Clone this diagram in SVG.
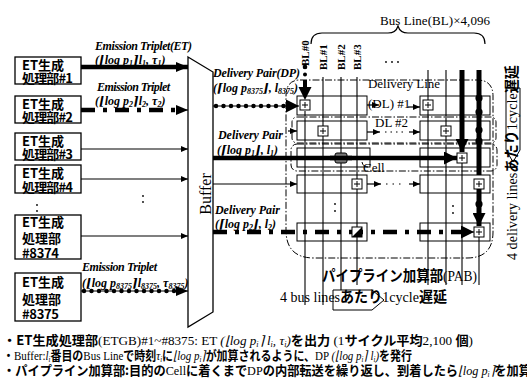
<svg xmlns="http://www.w3.org/2000/svg" width="527" height="387" viewBox="0 0 527 387">
<defs>
<style>
.box{fill:#fff;stroke:#000;stroke-width:1.3}
.bt{font-family:"Noto Sans CJK JP","Noto Sans",sans-serif;font-weight:bold;font-size:13px;fill:#000}
.it{font-family:"Liberation Serif","DejaVu Serif",serif;font-style:italic;font-weight:bold;font-size:12px;fill:#000}
.se{font-family:"Liberation Serif","Noto Sans CJK JP",serif;fill:#000}
.j{font-family:"Noto Sans CJK JP",sans-serif;font-weight:bold}
.m{font-style:italic}
.ln{fill:none;stroke:#000;stroke-width:1.2}
.bus{fill:none;stroke:#000;stroke-width:1.1}
.dd{fill:none;stroke:#000;stroke-width:1;stroke-dasharray:7 2 1.5 2}
.cell{fill:#fff;stroke:#000;stroke-width:1}
.row{fill:#fff;stroke:#000;stroke-width:1}
.thk{fill:none;stroke:#000;stroke-width:4.5}
.bead{fill:none;stroke:#000;stroke-width:4.5;stroke-linecap:round;stroke-dasharray:0 7.5}
.dash{fill:none;stroke:#000;stroke-width:4.5;stroke-dasharray:14 8 4 8}
</style>
<marker id="ab" markerUnits="userSpaceOnUse" markerWidth="12" markerHeight="10" refX="12" refY="5" orient="auto"><path d="M0,0L12,5L0,10z"/></marker>
<marker id="as" markerUnits="userSpaceOnUse" markerWidth="7" markerHeight="6" refX="7" refY="3" orient="auto"><path d="M0,0L7,3L0,6z"/></marker>
<marker id="al" markerUnits="userSpaceOnUse" markerWidth="13" markerHeight="13" refX="13" refY="6.5" orient="auto"><path d="M0,0L13,6.5L0,13z"/></marker>
<g id="cp"><rect x="-5" y="-5" width="10" height="10" class="cell"/><path d="M-3,0H3M0,-3V3" stroke="#000" stroke-width="1"/></g>
</defs>
<rect width="527" height="387" fill="#fff"/>

<!-- ET generation blocks -->
<g id="et1"><rect class="box" x="15" y="57" width="66" height="27"/><text class="bt" x="22" y="70">ET生成</text><text class="bt" x="22" y="83" textLength="51">処理部#1</text></g>
<g id="et2"><rect class="box" x="15" y="96" width="66" height="27"/><text class="bt" x="22" y="109">ET生成</text><text class="bt" x="22" y="122" textLength="51">処理部#2</text></g>
<g id="et3"><rect class="box" x="15" y="133" width="66" height="27"/><text class="bt" x="22" y="146">ET生成</text><text class="bt" x="22" y="159" textLength="51">処理部#3</text></g>
<g id="et4"><rect class="box" x="15" y="165" width="66" height="28"/><text class="bt" x="22" y="178">ET生成</text><text class="bt" x="22" y="192" textLength="51">処理部#4</text></g>
<g id="et8374"><rect class="box" x="15" y="215" width="66" height="44"/><text class="bt" x="22" y="227">ET生成</text><text class="bt" x="22" y="243">処理部</text><text class="bt" x="22" y="258" textLength="37">#8374</text></g>
<g id="et8375"><rect class="box" x="15" y="273" width="66" height="48"/><text class="bt" x="22" y="287">ET生成</text><text class="bt" x="22" y="304">処理部</text><text class="bt" x="22" y="319" textLength="37">#8375</text></g>
<g id="vdots1" fill="#000"><circle cx="37" cy="205" r="0.9"/><circle cx="37" cy="211" r="0.9"/><circle cx="143" cy="196" r="0.9"/><circle cx="143" cy="202" r="0.9"/></g>

<!-- Buffer -->
<g id="buffer"><polygon points="188,57 213,72 213,312 188,327" fill="#fff" stroke="#000" stroke-width="1.3"/><text transform="translate(211,194) rotate(-90)" text-anchor="middle" font-family="Liberation Serif,serif" font-size="16">Buffer</text></g>

<!-- PAB outlines -->
<g id="pab">
<path class="dd" d="M300,80H477Q493,80 493,96V232Q493,258 467,258H314Q286,258 286,230V96Q286,80 300,80Z"/>
<rect class="dd" x="292" y="117" width="204" height="26" rx="5"/>
<rect class="dd" x="291" y="144" width="206" height="27" rx="6"/>
<g id="dl1"><rect class="row" x="297" y="96" width="70" height="19"/><rect class="row" x="420" y="96" width="70" height="19"/></g>
<g id="dl2"><rect class="row" x="297" y="121" width="70" height="19"/><rect class="row" x="420" y="121" width="70" height="19"/></g>
<g id="dl3"><rect class="row" x="297" y="148" width="73" height="19"/><rect class="row" x="420" y="148" width="70" height="19"/></g>
<g id="dl4"><rect class="row" x="297" y="175" width="70" height="18"/><rect class="row" x="420" y="175" width="70" height="18"/></g>
<g id="dl5"><rect class="row" x="297" y="223" width="70" height="18"/><rect class="row" x="420" y="223" width="70" height="18"/></g>
</g>

<!-- bus lines -->
<g id="buslines">
<path class="bus" d="M305,111V305M323,77V305M341,77V305M357,77V285M428,70V285M446,70V285M462,163V285M479,236V285"/>
<circle cx="305" cy="67" r="2.3"/>
<path class="bead" d="M305,67V82" style="stroke-width:4"/>
<path d="M305,80V88" stroke="#000" stroke-width="4"/>
<path d="M298.5,87L311.5,87L305,100z"/>
<path class="thk" d="M462,70V152" style="stroke-width:5" marker-end="url(#al)"/>
<path class="thk" d="M479,70V175" style="stroke-width:5"/>
<g fill="#000"><circle cx="479" cy="98" r="3.6"/><circle cx="479" cy="112" r="3.6"/><circle cx="479" cy="130" r="3.6"/><circle cx="479" cy="141" r="3.6"/><circle cx="479" cy="204" r="3.6"/></g>
<path class="thk" d="M479,189V226" style="stroke-width:5" marker-end="url(#al)"/>
</g>

<!-- connectors -->
<g id="connectors">
<path class="thk" d="M81,67H188" marker-end="url(#ab)"/>
<path class="dash" d="M81,110H180"/><path d="M180,110H188" stroke="#000" stroke-width="1" marker-end="url(#ab)"/>
<path class="ln" d="M81,149H188" marker-end="url(#as)"/>
<path class="ln" d="M81,179H188" marker-end="url(#as)"/>
<path class="ln" d="M81,236H188" marker-end="url(#as)"/>
<path class="ln" d="M81,291H188" marker-end="url(#ab)"/><path class="bead" d="M84,291H180"/>
<path class="ln" d="M213,106H299" marker-end="url(#al)"/><path class="bead" d="M216,106H288"/>
<path class="thk" d="M213,158H457" marker-end="url(#al)"/>
<path class="ln" d="M213,184H297" marker-end="url(#as)"/>
<path class="dash" d="M213,232H462"/><path d="M460,232H474" stroke="#000" stroke-width="1" marker-end="url(#al)"/>
<path class="ln" d="M288,131H297" marker-end="url(#as)"/>
<path class="ln" d="M367,105H379" marker-end="url(#as)"/>
<path class="ln" d="M408,107H420" marker-end="url(#as)"/>
<path class="ln" d="M367,132H380" marker-end="url(#as)"/>
<path class="ln" d="M385,132H405" stroke-dasharray="1.5 4"/>
<path class="ln" d="M409,132H420" marker-end="url(#as)"/>
<path class="ln" d="M367,184H381" marker-end="url(#as)"/>
<path class="ln" d="M386,184H405" stroke-dasharray="1.5 5"/>
<path class="ln" d="M409,184H420" marker-end="url(#as)"/>
</g>

<!-- cells -->
<g id="cells">
<use href="#cp" x="305" y="105"/><use href="#cp" x="428" y="105"/>
<use href="#cp" x="323" y="131"/><use href="#cp" x="446" y="131"/>
<rect x="335" y="153" width="12" height="10" rx="2" fill="#777" stroke="#000"/><path d="M330,158H352" stroke="#000" stroke-width="4.5"/>
<use href="#cp" x="462" y="158"/>
<use href="#cp" x="357" y="184"/><use href="#cp" x="479" y="184"/>
<rect x="352" y="227" width="10" height="10" class="cell"/><path d="M352,237L362,227V237z" fill="#000"/>
<use href="#cp" x="479" y="232"/>
<path d="M362,162Q363,167 368,167" fill="none" stroke="#000"/>
<text class="se" x="363" y="172" style="font-size:13px">Cell</text>
<g fill="#000"><circle cx="335" cy="204" r="0.9"/><circle cx="335" cy="211" r="0.9"/><circle cx="453" cy="206" r="0.9"/><circle cx="453" cy="213" r="0.9"/><circle cx="386" cy="62" r="0.9"/><circle cx="392" cy="62" r="0.9"/><circle cx="398" cy="62" r="0.9"/></g>
</g>

<!-- bus line labels -->
<g id="bl-labels" font-family="Liberation Serif,serif" font-size="11" font-weight="bold">
<text transform="translate(309,66) rotate(-90)">BL#0</text>
<text transform="translate(327,70) rotate(-90)">BL#1</text>
<text transform="translate(345,70) rotate(-90)">BL#2</text>
<text transform="translate(361,70) rotate(-90)">BL#3</text>
</g>
<g id="brace"><path d="M311,44Q311,33 322,33H388Q396,33 398,26Q400,33 408,33H474Q485,33 485,44" fill="none" stroke="#000" stroke-width="1.2"/><text class="se" x="380" y="25" style="font-size:13px" textLength="110">Bus Line(BL)×4,096</text></g>

<!-- labels -->
<g id="labels">
<text class="it" x="95" y="50" textLength="97">Emission Triplet(ET)</text>
<text class="it" x="95" y="64">(⌊log p<tspan font-size="8" dy="2">1</tspan><tspan dy="-2">⌉</tspan>l<tspan font-size="8" dy="2">1</tspan><tspan dy="-2">, τ</tspan><tspan font-size="8" dy="2">1</tspan><tspan dy="-2">)</tspan></text>
<text class="it" x="97" y="91" textLength="73">Emission Triplet</text>
<text class="it" x="95" y="105">(⌊log p<tspan font-size="8" dy="2">2</tspan><tspan dy="-2">⌉</tspan>l<tspan font-size="8" dy="2">2</tspan><tspan dy="-2">, τ</tspan><tspan font-size="8" dy="2">2</tspan><tspan dy="-2">)</tspan></text>
<text class="it" x="82" y="271" textLength="75">Emission Triplet</text>
<text class="it" x="82" y="287">(⌊log p<tspan font-size="8" dy="2">8375</tspan><tspan dy="-2">⌉</tspan>l<tspan font-size="8" dy="2">8375</tspan><tspan dy="-2">, τ</tspan><tspan font-size="8" dy="2">8375</tspan><tspan dy="-2">)</tspan></text>
<text class="it" x="213" y="77" textLength="87">Delivery Pair(DP)</text>
<text class="it" x="213" y="92">(⌈log p<tspan font-size="8" dy="2">8375</tspan><tspan dy="-2">⌋, l</tspan><tspan font-size="8" dy="2">8375</tspan><tspan dy="-2">)</tspan></text>
<text class="it" x="218" y="139" textLength="65">Delivery Pair</text>
<text class="it" x="217" y="154">(⌈log p<tspan font-size="8" dy="2">1</tspan><tspan dy="-2">⌋, l</tspan><tspan font-size="8" dy="2">1</tspan><tspan dy="-2">)</tspan></text>
<text class="it" x="215" y="214" textLength="65">Delivery Pair</text>
<text class="it" x="215" y="228">(⌈log p<tspan font-size="8" dy="2">2</tspan><tspan dy="-2">⌋, l</tspan><tspan font-size="8" dy="2">2</tspan><tspan dy="-2">)</tspan></text>
<text class="se" x="368" y="88" style="font-size:13px" textLength="72">Delivery Line</text>
<text class="se" x="368" y="108" style="font-size:13px">(DL) #1</text>
<text class="se" x="375" y="127" style="font-size:13px">DL #2</text>
<text class="se" x="322" y="281" style="font-size:15px" textLength="155" lengthAdjust="spacingAndGlyphs"><tspan class="j">パイプライン加算部</tspan>(PAB)</text>
<polygon points="333,290 372,290 384,300 372,310 333,310" fill="#fff" stroke="#000" stroke-width="1"/>
<text class="se" x="280" y="302" style="font-size:15px" textLength="167" lengthAdjust="spacingAndGlyphs">4 bus lines<tspan class="j">あたり</tspan>1cycle<tspan class="j">遅延</tspan></text>
<polygon points="506,88 520,88 520,150 513,162 506,150" fill="#fff" stroke="#000" stroke-width="1"/>
<text class="se" transform="translate(517,260) rotate(-90)" style="font-size:15px" textLength="195" lengthAdjust="spacingAndGlyphs">4 delivery lines<tspan class="j">あたり</tspan>1cycle<tspan class="j">遅延</tspan></text>
</g>

<!-- notes -->
<g id="notes">
<text class="se" x="3" y="345" style="font-size:13px" textLength="470" lengthAdjust="spacingAndGlyphs"><tspan class="j">・ET生成処理部</tspan>(ETGB)#1~#8375: ET <tspan class="m">(⌊log p</tspan><tspan class="m" font-size="8" dy="2">i</tspan><tspan class="m" dy="-2">⌉ l</tspan><tspan class="m" font-size="8" dy="2">i</tspan><tspan class="m" dy="-2">, τ</tspan><tspan class="m" font-size="8" dy="2">i</tspan><tspan class="m" dy="-2">)</tspan><tspan class="j">を出力</tspan> (1<tspan class="j">サイクル平均</tspan>2,100 <tspan class="j">個</tspan>)</text>
<text class="se" x="3" y="360" style="font-size:13px" textLength="409" lengthAdjust="spacingAndGlyphs"><tspan class="j">・</tspan>Buffer:<tspan class="m">l</tspan><tspan class="m" font-size="8" dy="2">i</tspan><tspan class="j" dy="-2">番目の</tspan>Bus Line<tspan class="j">で時刻</tspan><tspan class="m">τ</tspan><tspan class="m" font-size="8" dy="2">i</tspan><tspan class="j" dy="-2">に</tspan><tspan class="m">⌊log p</tspan><tspan class="m" font-size="8" dy="2">i</tspan><tspan class="m" dy="-2">⌉</tspan><tspan class="j">が加算されるように、</tspan>DP <tspan class="m">(⌊log p</tspan><tspan class="m" font-size="8" dy="2">i</tspan><tspan class="m" dy="-2">⌉ l</tspan><tspan class="m" font-size="8" dy="2">i</tspan><tspan class="m" dy="-2">)</tspan><tspan class="j">を発行</tspan></text>
<text class="se" x="3" y="375" style="font-size:13px" textLength="528" lengthAdjust="spacingAndGlyphs"><tspan class="j">・パイプライン加算部:目的の</tspan>Cell<tspan class="j">に着くまで</tspan>DP<tspan class="j">の内部転送を繰り返し、到着したら</tspan><tspan class="m">⌊log p</tspan><tspan class="m" font-size="8" dy="2">i</tspan><tspan class="m" dy="-2">⌉</tspan><tspan class="j">を加算</tspan></text>
</g>
</svg>
